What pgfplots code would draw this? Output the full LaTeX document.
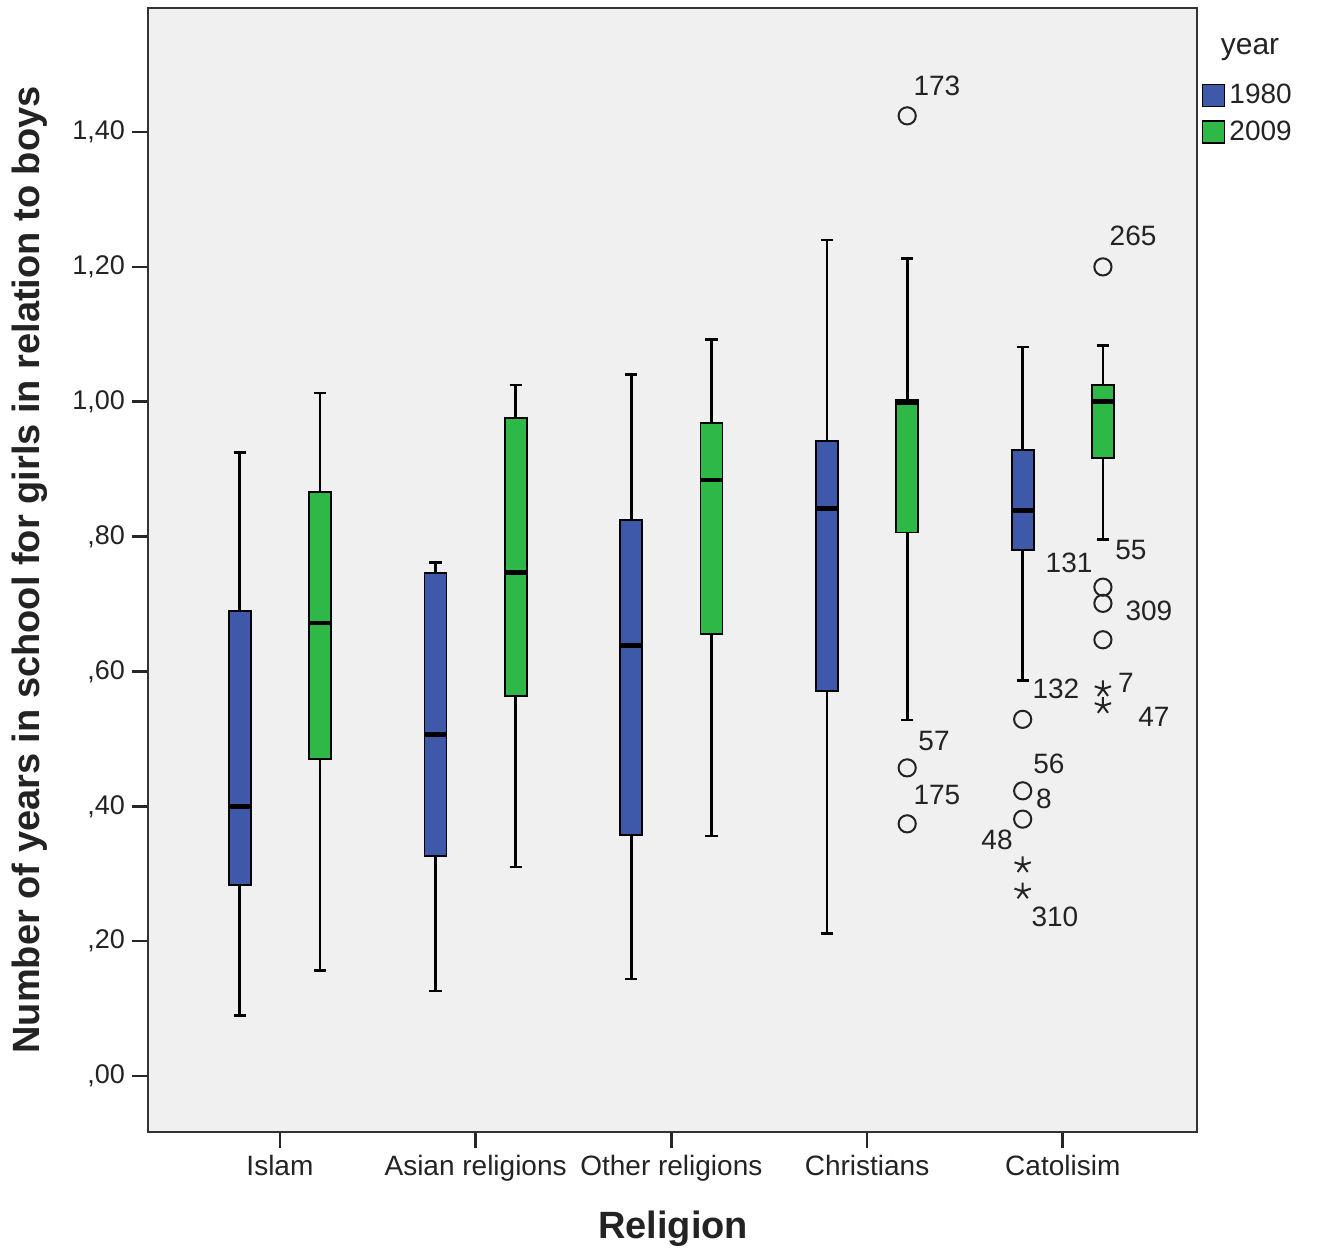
\documentclass[border=0pt]{standalone}
\usepackage{pgfplots}
\pgfplotsset{compat=1.18}
\usepgfplotslibrary{statistics}
\usepackage{fontspec}
\setmainfont{Liberation Sans}

\definecolor{sblue}{RGB}{62,88,170}
\definecolor{sgreen}{RGB}{46,184,72}
\definecolor{bggray}{RGB}{240,240,240}
\definecolor{ink}{RGB}{35,35,35}

\begin{document}
\begin{tikzpicture}
\begin{axis}[
    width=524.5pt, height=562pt, scale only axis,
    xmin=-0.674, xmax=4.686, ymin=-0.083, ymax=1.584,
    clip=false,
    axis background/.style={fill=bggray},
    axis line style={black!80, line width=1pt},
    xtick={0,1,2,3,4},
    xticklabels={Islam, Asian religions, Other religions, Christians, Catolisim},
    ytick={0,0.2,0.4,0.6,0.8,1.0,1.2,1.4},
    yticklabels={{,00},{,20},{,40},{,60},{,80},{1,00},{1,20},{1,40}},
    xtick pos=bottom, ytick pos=left, tick align=outside,
    major tick length=8pt,
    tick style={black!85, line width=1.3pt},
    x tick label style={font=\fontsize{14}{16}\selectfont, text=ink},
    y tick label style={font=\fontsize{13.5}{15}\selectfont, text=ink},
    xlabel={Religion},
    ylabel={Number of years in school for girls in relation to boys},
    label style={font=\bfseries\fontsize{19}{22}\selectfont, text=ink},
    xlabel style={at={(rel axis cs:0.5005,-0.0863)}, anchor=center},
    ylabel style={at={(rel axis cs:-0.1125,0.5)}, anchor=center},
    boxplot/draw direction=y,
    boxplot/box extend=0.112,
    boxplot/whisker extend=0.062,
    boxplot/every box/.style={draw=black, line width=0.9pt},
    boxplot/every whisker/.style={black, line width=1.35pt},
    boxplot/every median/.style={black, line width=2.4pt},
    legend style={at={(rel axis cs:1.004,0.936)}, anchor=north west,
      draw=none, fill=none, inner sep=0pt, row sep=3pt,
      font=\fontsize{14}{16}\selectfont, text=ink,
      nodes={inner sep=2pt}},
    legend cell align=left,
    legend image code/.code={\draw[#1, line width=0.9pt] (0pt,-5.5pt) rectangle (11pt,5.5pt);},
]
% 1980
\addplot[fill=sblue, forget plot, boxplot prepared={draw position=-0.205,
  lower whisker=0.090, lower quartile=0.283, median=0.400, upper quartile=0.690, upper whisker=0.925}] coordinates {};
\addplot[fill=sblue, forget plot, boxplot prepared={draw position=0.795,
  lower whisker=0.126, lower quartile=0.326, median=0.507, upper quartile=0.746, upper whisker=0.762}] coordinates {};
\addplot[fill=sblue, forget plot, boxplot prepared={draw position=1.795,
  lower whisker=0.144, lower quartile=0.357, median=0.639, upper quartile=0.825, upper whisker=1.040}] coordinates {};
\addplot[fill=sblue, forget plot, boxplot prepared={draw position=2.795,
  lower whisker=0.211, lower quartile=0.571, median=0.842, upper quartile=0.942, upper whisker=1.240}] coordinates {};
\addplot[fill=sblue, forget plot, boxplot prepared={draw position=3.795,
  lower whisker=0.587, lower quartile=0.780, median=0.839, upper quartile=0.929, upper whisker=1.081}] coordinates {};
% 2009
\addplot[fill=sgreen, forget plot, boxplot prepared={draw position=0.205,
  lower whisker=0.156, lower quartile=0.470, median=0.672, upper quartile=0.866, upper whisker=1.013}] coordinates {};
\addplot[fill=sgreen, forget plot, boxplot prepared={draw position=1.205,
  lower whisker=0.310, lower quartile=0.564, median=0.747, upper quartile=0.976, upper whisker=1.025}] coordinates {};
\addplot[fill=sgreen, forget plot, boxplot prepared={draw position=2.205,
  lower whisker=0.356, lower quartile=0.655, median=0.884, upper quartile=0.968, upper whisker=1.092}] coordinates {};
\addplot[fill=sgreen, forget plot, boxplot prepared={draw position=3.205,
  lower whisker=0.528, lower quartile=0.806, median=0.999, upper quartile=1.002, upper whisker=1.212}] coordinates {};
\addplot[fill=sgreen, forget plot, boxplot prepared={draw position=4.205,
  lower whisker=0.796, lower quartile=0.917, median=1.000, upper quartile=1.025, upper whisker=1.083}] coordinates {};

% outliers
\addplot[only marks, mark=o, mark size=4.3pt, ink, line width=1pt, forget plot] coordinates {
  (3.205,1.424) (3.205,0.457) (3.205,0.374)
  (3.795,0.529) (3.795,0.423) (3.795,0.381)
  (4.205,1.200) (4.205,0.725) (4.205,0.701) (4.205,0.647)};
\addplot[only marks, mark=star, mark size=4.3pt, ink, line width=1pt, forget plot] coordinates {
  (3.795,0.313) (3.795,0.274) (4.205,0.574) (4.205,0.549)};

% case labels
\addplot[only marks, mark=none, forget plot, nodes near coords, point meta=explicit symbolic,
  nodes near coords style={anchor=center, font=\fontsize{14}{16}\selectfont, text=ink}] coordinates {
  (3.357,1.468) [173] (4.359,1.246) [265] (4.348,0.780) [55] (4.032,0.761) [131]
  (4.440,0.690) [309] (3.965,0.574) [132] (4.323,0.583) [7] (4.466,0.532) [47]
  (3.342,0.497) [57] (3.929,0.463) [56] (3.357,0.417) [175] (3.904,0.411) [8]
  (3.664,0.350) [48] (3.960,0.236) [310]};

\addlegendimage{fill=sblue, draw=black}
\addlegendentry{1980}
\addlegendimage{fill=sgreen, draw=black}
\addlegendentry{2009}

\node[font=\fontsize{15}{17}\selectfont, text=ink] at (rel axis cs:1.0505,0.963) {year};

\coordinate (bbll) at (rel axis cs:-0.1411,-0.1085);
\coordinate (bbur) at (rel axis cs:1.1153,1.0071);
\end{axis}
\pgfresetboundingbox
\useasboundingbox (bbll) rectangle (bbur);
\end{tikzpicture}
\end{document}
